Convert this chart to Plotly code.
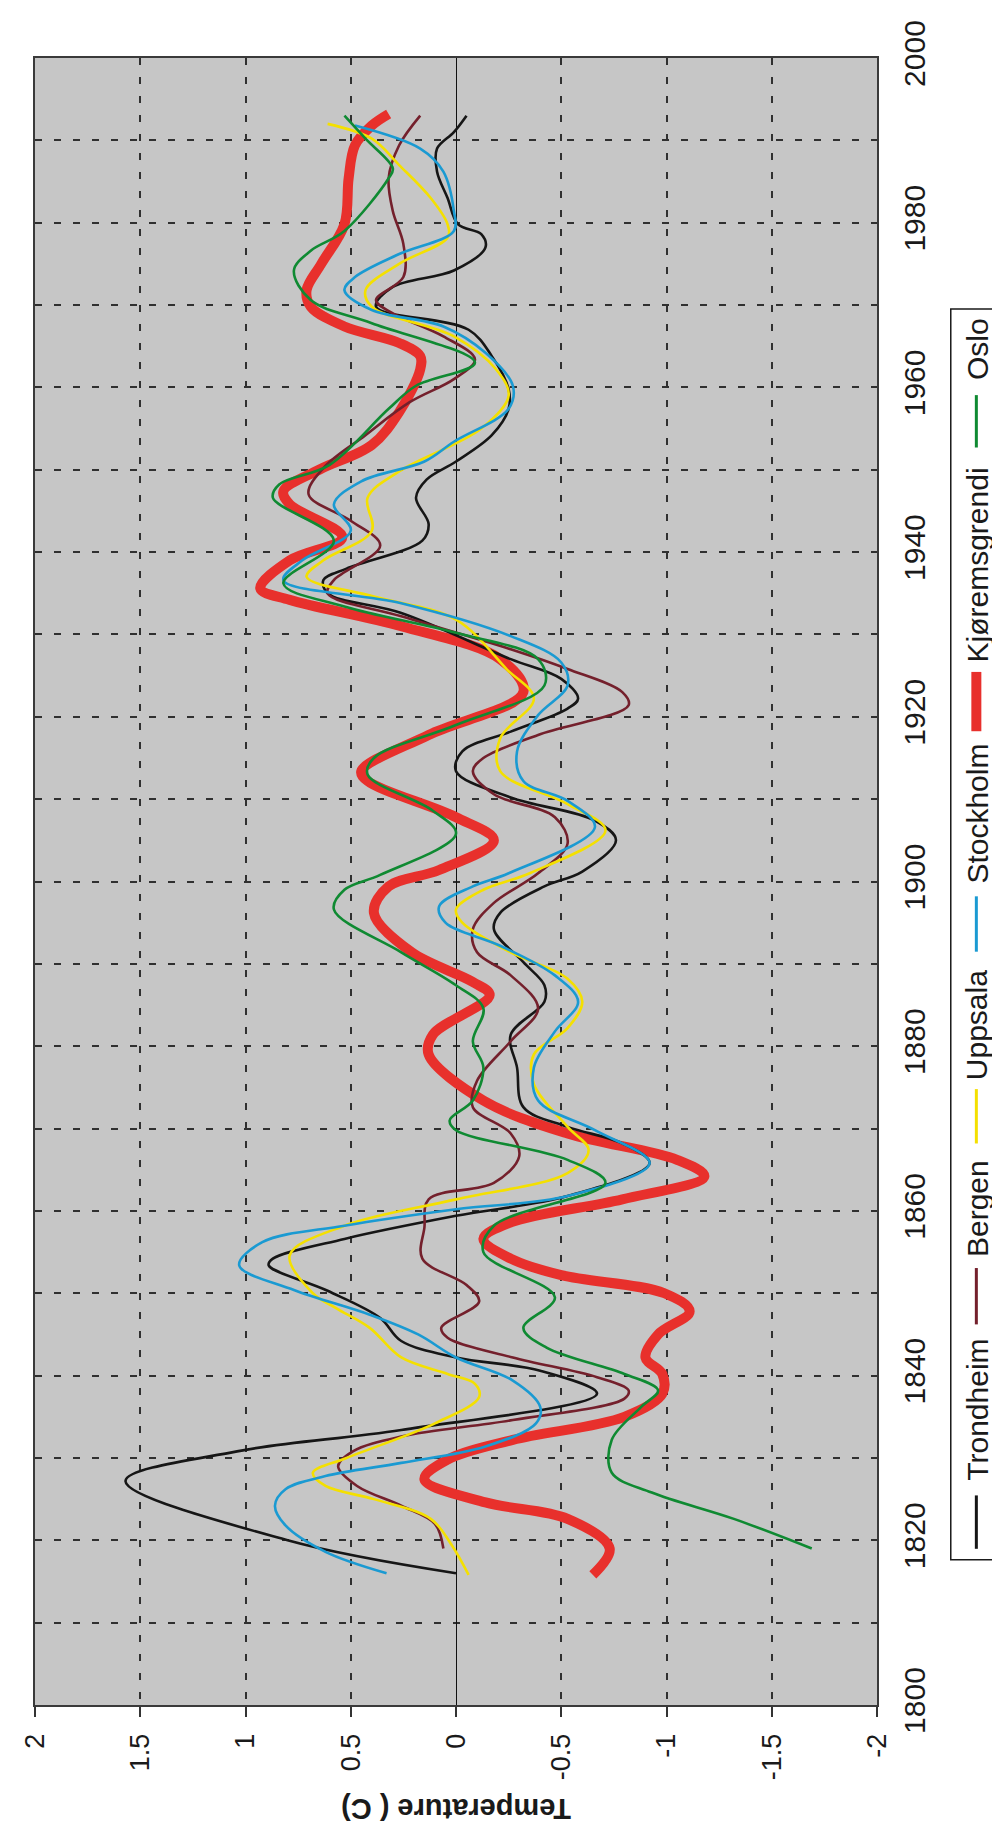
import plotly.graph_objects as go

# ---------------- data ----------------
trondheim_year = [1816, 1820, 1827.2, 1830.8, 1833.4, 1837.8, 1840.6, 1842.2, 1844.2, 1847, 1850.3, 1853.4, 1854.2,
                  1856.6, 1859.4, 1861.8, 1865.8, 1868.2, 1870.2, 1872.6, 1877.4, 1881.4, 1885.4, 1887.4, 1890.2,
                  1894.2, 1896.2, 1899.4, 1901.2, 1905, 1907.4, 1910.2, 1913.4, 1915.8, 1918.2, 1921, 1922.2, 1924.6,
                  1927, 1932.6, 1935, 1936.6, 1938, 1941.4, 1943.4, 1946.6, 1948.8, 1951, 1954.2, 1957.4, 1959.8,
                  1963.8, 1967, 1969.8, 1972.2, 1974.2, 1977, 1978.6, 1979.8, 1983, 1986.2, 1989, 1991, 1993]
trondheim_temp = [0.0, 0.8, 1.57, 1.04, 0.26, -0.67, -0.40, 0.0, 0.26, 0.36, 0.61, 0.89, 0.87,
                  0.53, 0.0, -0.53, -0.92, -0.79, -0.53, -0.32, -0.29, -0.26, -0.42, -0.42, -0.32,
                  -0.18, -0.21, -0.42, -0.6, -0.76, -0.66, -0.26, 0.0, -0.03, -0.26, -0.53, -0.58, -0.5,
                  -0.26, 0.26, 0.61, 0.63, 0.52, 0.16, 0.13, 0.19, 0.14, 0.0, -0.17, -0.25, -0.25,
                  -0.17, -0.06, 0.38, 0.30, 0.01, -0.14, -0.12, -0.01, 0.04, 0.09, 0.09, 0.01, -0.05]

bergen_year = [1819, 1822, 1824.2, 1826.6, 1829, 1830.8, 1832.6, 1834.6, 1837.2, 1838.2, 1839.8, 1842.2, 1844.6,
               1845.8, 1849, 1851, 1854.2, 1858, 1861.4, 1863.4, 1866.6, 1869.4, 1872.6, 1875.8, 1880.6, 1884.6,
               1888.6, 1891.4, 1894.2, 1897.4, 1901, 1904.6, 1907.8, 1910.6, 1913.4, 1915, 1917.8, 1921.4, 1923,
               1925.8, 1928.2, 1932.2, 1935, 1936.6, 1940.8, 1943.8, 1947, 1950.2, 1954.2, 1958.2, 1961, 1963.4,
               1966.2, 1969, 1970.6, 1973.4, 1977.4, 1981.4, 1985.4, 1989.4, 1993]
bergen_temp = [0.06, 0.10, 0.26, 0.47, 0.56, 0.49, 0.26, -0.27, -0.80, -0.82, -0.67, -0.27, 0.04,
               0.07, -0.11, -0.05, 0.16, 0.15, 0.13, -0.18, -0.30, -0.26, -0.08, -0.10, -0.26, -0.39,
               -0.26, -0.10, -0.08, -0.18, -0.39, -0.53, -0.47, -0.18, -0.08, -0.13, -0.39, -0.82, -0.79,
               -0.53, -0.26, 0.26, 0.61, 0.58, 0.36, 0.50, 0.70, 0.63, 0.43, 0.22, 0.01, -0.09,
               0.06, 0.30, 0.38, 0.25, 0.25, 0.30, 0.32, 0.27, 0.17]

uppsala_year = [1815.8, 1819.4, 1822.6, 1825, 1826.6, 1828.2, 1830, 1834.2, 1837.4, 1839, 1840.2, 1842.2, 1845.8,
                1848.2, 1850, 1854.6, 1858.2, 1861.4, 1864.6, 1867.4, 1870.2, 1875.4, 1879, 1882.2, 1885.4,
                1888.2, 1891.4, 1895, 1896.6, 1899, 1901, 1906.2, 1909.4, 1913.4, 1917.4, 1922.2, 1925.8, 1931.8,
                1934.6, 1937, 1939, 1942.6, 1946.6, 1949.8, 1955, 1959, 1962.2, 1966.2, 1969.8, 1971.8, 1975,
                1978.2, 1979.8, 1983, 1987, 1990.2, 1992]
uppsala_temp = [-0.06, 0.02, 0.12, 0.39, 0.62, 0.68, 0.52, 0.10, -0.11, -0.09, 0.04, 0.26, 0.41,
                0.57, 0.68, 0.79, 0.53, 0.0, -0.53, -0.63, -0.53, -0.37, -0.37, -0.53, -0.60,
                -0.53, -0.26, -0.03, 0.0, -0.13, -0.35, -0.71, -0.53, -0.21, -0.21, -0.37, -0.24, 0.0,
                0.39, 0.71, 0.63, 0.40, 0.42, 0.27, -0.12, -0.25, -0.19, 0.01, 0.40, 0.43, 0.27,
                0.04, 0.04, 0.12, 0.27, 0.40, 0.61]

stockholm_year = [1816, 1818.6, 1821.8, 1824.2, 1826.2, 1827.8, 1829.4, 1831.4, 1834.2, 1836.2, 1839.4, 1842.2, 1845,
                  1847.4, 1850.4, 1853.4, 1856.2, 1858.2, 1860.2, 1861.8, 1865.8, 1869.8, 1873.4, 1877.4, 1881.8,
                  1885.4, 1888.6, 1892.2, 1895, 1897, 1899.4, 1901, 1906.6, 1909.8, 1912.2, 1915.8, 1920.2, 1923.8,
                  1926.6, 1929.8, 1933.8, 1936.6, 1939, 1942.6, 1945.8, 1948.6, 1951, 1953.4, 1957.4, 1960.2, 1964.2,
                  1967.4, 1969.4, 1971.8, 1973.4, 1976.2, 1979, 1981.4, 1986.2, 1989, 1991.8]
stockholm_temp = [0.33, 0.62, 0.81, 0.86, 0.81, 0.62, 0.26, -0.14, -0.38, -0.40, -0.27, 0.0, 0.18,
                  0.41, 0.77, 1.03, 0.92, 0.53, 0.0, -0.53, -0.92, -0.66, -0.39, -0.37, -0.47,
                  -0.58, -0.47, -0.21, 0.05, 0.08, -0.08, -0.25, -0.66, -0.53, -0.32, -0.29, -0.39, -0.53,
                  -0.50, -0.26, 0.26, 0.82, 0.73, 0.50, 0.58, 0.45, 0.15, 0.01, -0.25, -0.27, -0.14,
                  0.06, 0.40, 0.53, 0.48, 0.27, 0.01, 0.01, 0.06, 0.17, 0.48]

kjoremsgrendi_year = [1815.8, 1819, 1822.6, 1824.6, 1827.4, 1829.8, 1832.2, 1835, 1837.8, 1840.2, 1842.2, 1845,
                      1847.8, 1850, 1852.2, 1854.2, 1856.6, 1858.6, 1861.4, 1864.2, 1866.2, 1869.4, 1873.4, 1879,
                      1881.4, 1886.2, 1887.8, 1891.4, 1896.2, 1899.4, 1901.4, 1905, 1907.8, 1912.2, 1913.4, 1917.8,
                      1923, 1927, 1931, 1934.2, 1935.6, 1939, 1941.8, 1945.8, 1947.4, 1950, 1953, 1957, 1962.2,
                      1963.8, 1965.4, 1967.4, 1969.8, 1971.8, 1975, 1979.8, 1985.4, 1989.4, 1991.8, 1993.2]
kjoremsgrendi_temp = [-0.65, -0.73, -0.53, -0.14, 0.15, 0.04, -0.27, -0.80, -0.98, -0.98, -0.90, -0.96,
                      -1.11, -0.99, -0.50, -0.26, -0.13, -0.26, -0.79, -1.18, -1.05, -0.53, -0.13, 0.13,
                      0.11, -0.16, -0.08, 0.21, 0.39, 0.32, 0.08, -0.18, 0.0, 0.42, 0.45, 0.13,
                      -0.32, -0.21, 0.26, 0.79, 0.93, 0.79, 0.54, 0.79, 0.82, 0.65, 0.40, 0.27, 0.17,
                      0.17, 0.27, 0.53, 0.69, 0.71, 0.64, 0.53, 0.51, 0.48, 0.40, 0.32]

oslo_year = [1819, 1822.6, 1825.8, 1828.2, 1832.2, 1836.2, 1838.2, 1840.2, 1843.4, 1845.8, 1849.5, 1855, 1858.2,
             1863.4, 1866.2, 1869.8, 1871, 1873.4, 1877.4, 1880.6, 1884.6, 1887.4, 1891.4, 1896.6, 1899,
             1900.8, 1905.8, 1908.6, 1913, 1915, 1919, 1923.8, 1927, 1930.2, 1933.4, 1936.2, 1941.4, 1946.6,
             1948.2, 1950.6, 1957.4, 1960.2, 1963, 1967.8, 1970.6, 1974.2, 1976.6, 1979, 1985.4, 1986.6,
             1990.2, 1993]
oslo_temp = [-1.69, -1.32, -0.93, -0.74, -0.74, -0.88, -0.96, -0.80, -0.43, -0.32, -0.47, -0.13, -0.18,
             -0.71, -0.53, 0.0, 0.03, -0.08, -0.13, -0.08, -0.13, 0.0, 0.26, 0.58, 0.53,
             0.36, 0.0, 0.11, 0.42, 0.39, 0.0, -0.42, -0.39, 0.0, 0.53, 0.82, 0.58, 0.87,
             0.84, 0.60, 0.32, 0.19, -0.09, 0.40, 0.69, 0.77, 0.69, 0.53, 0.32, 0.30,
             0.43, 0.53]

series_names = ["Trondheim", "Bergen", "Uppsala", "Stockholm", "Kjøremsgrendi", "Oslo"]
temp_ticks = [2, 1.5, 1, 0.5, 0, -0.5, -1, -1.5, -2]
temp_tick_labels = ["2", "1.5", "1", "0.5", "0", "-0.5", "-1", "-1.5", "-2"]
year_ticks = list(range(1800, 2001, 10))
year_tick_labels = [str(y) if y % 20 == 0 else "" for y in year_ticks]
axis_title = "Temperature ( C)"

# ---------------- styling ----------------
colors = {
    "Trondheim": "#161616",
    "Bergen": "#74202c",
    "Uppsala": "#f4e000",
    "Stockholm": "#1a9ad2",
    "Kjøremsgrendi": "#e8302c",
    "Oslo": "#0f8a32",
}
widths = {"Trondheim": 2.6, "Bergen": 2.6, "Uppsala": 2.6, "Stockholm": 2.6, "Kjøremsgrendi": 10, "Oslo": 2.6}

data = {
    "Trondheim": (trondheim_year, trondheim_temp),
    "Bergen": (bergen_year, bergen_temp),
    "Uppsala": (uppsala_year, uppsala_temp),
    "Stockholm": (stockholm_year, stockholm_temp),
    "Kjøremsgrendi": (kjoremsgrendi_year, kjoremsgrendi_temp),
    "Oslo": (oslo_year, oslo_temp),
}

FONT = "Liberation Sans, Arial, sans-serif"
PAGE_OFF = 8                      # default <body> margin of the written page
W, H = 1000 - PAGE_OFF, 1840 - PAGE_OFF
# plot area in page pixels: x 21..877, y 39..1705
L = 21 - PAGE_OFF
T = 39 - PAGE_OFF
R = W - (877 - PAGE_OFF)
B = H - (1705 - PAGE_OFF)
PW, PH = W - L - R, H - T - B

def px_x(px):
    return (px - PAGE_OFF - L) / PW

def px_y(py):
    return (H - B - (py - PAGE_OFF)) / PH

fig = go.Figure()

draw_order = ["Kjøremsgrendi", "Trondheim", "Bergen", "Uppsala", "Stockholm", "Oslo"]
for name in draw_order:
    yrs, tmp = data[name]
    fig.add_trace(go.Scatter(
        x=tmp, y=yrs, mode="lines", name=name, showlegend=False,
        line=dict(color=colors[name], width=widths[name], shape="spline", smoothing=1.0),
    ))

fig.update_layout(
    width=W, height=H,
    margin=dict(l=L, r=R, t=T, b=B, pad=0),
    paper_bgcolor="white",
    plot_bgcolor="#c6c6c6",
    font=dict(family=FONT, color="#1a1a1a"),
    xaxis=dict(
        range=[2, -2], autorange=False,
        tickmode="array", tickvals=temp_ticks, ticktext=temp_tick_labels,
        tickangle=-90, tickfont=dict(size=27, family=FONT, color="#1a1a1a"),
        ticks="outside", ticklen=10, tickwidth=1.5, tickcolor="#333",
        ticklabelstandoff=6, ticklabeloverflow="allow",
        showgrid=True, gridcolor="#303030", gridwidth=1.5, griddash="7px,12px",
        zeroline=True, zerolinecolor="#111", zerolinewidth=1.2,
        showline=True, linecolor="#3a3a3a", linewidth=2, mirror=True,
    ),
    yaxis=dict(
        range=[1800, 2000], autorange=False, side="right",
        tickmode="array", tickvals=year_ticks, ticktext=year_tick_labels,
        tickangle=-90, tickfont=dict(size=30, family=FONT, color="#1a1a1a"),
        ticks="", ticklabelstandoff=10, ticklabeloverflow="allow",
        showgrid=True, gridcolor="#303030", gridwidth=1.5, griddash="7px,12px",
        zeroline=False,
        showline=True, linecolor="#3a3a3a", linewidth=2, mirror=True,
    ),
)

# axis title (upside down, as in the rotated original)
fig.add_annotation(
    text="<b>" + axis_title + "</b>", x=0.5, y=px_y(1810), xref="paper", yref="paper",
    showarrow=False, textangle=180, font=dict(size=29, family=FONT, color="#1a1a1a"),
    xanchor="center", yanchor="middle",
)

# legend drawn as a rotated box
shapes = [dict(type="rect", xref="paper", yref="paper",
               x0=px_x(952), x1=px_x(1012), y0=px_y(1558), y1=px_y(293),
               line=dict(color="#1a1a1a", width=1.5), fillcolor="white", layer="below")]
legend_samples = {  # name: (sample y0, y1, text center y) in page pixels
    "Trondheim": (1547, 1493, 1406),
    "Bergen": (1320, 1263, 1203),
    "Uppsala": (1137, 1082, 1017),
    "Stockholm": (943, 887, 803),
    "Kjøremsgrendi": (720, 660, 552),
    "Oslo": (433, 380, 333),
}
for name in series_names:
    s0, s1, tc = legend_samples[name]
    shapes.append(dict(type="line", xref="paper", yref="paper",
                       x0=px_x(978), x1=px_x(978), y0=px_y(s0), y1=px_y(s1),
                       line=dict(color=colors[name], width=widths[name] if name == "Kjøremsgrendi" else 3)))
    fig.add_annotation(text=name, x=px_x(979), y=px_y(tc), xref="paper", yref="paper",
                       showarrow=False, textangle=-90, xanchor="center", yanchor="middle",
                       font=dict(size=30, family=FONT, color="#1a1a1a"))
fig.update_layout(shapes=shapes)

fig.write_html("out.html")
